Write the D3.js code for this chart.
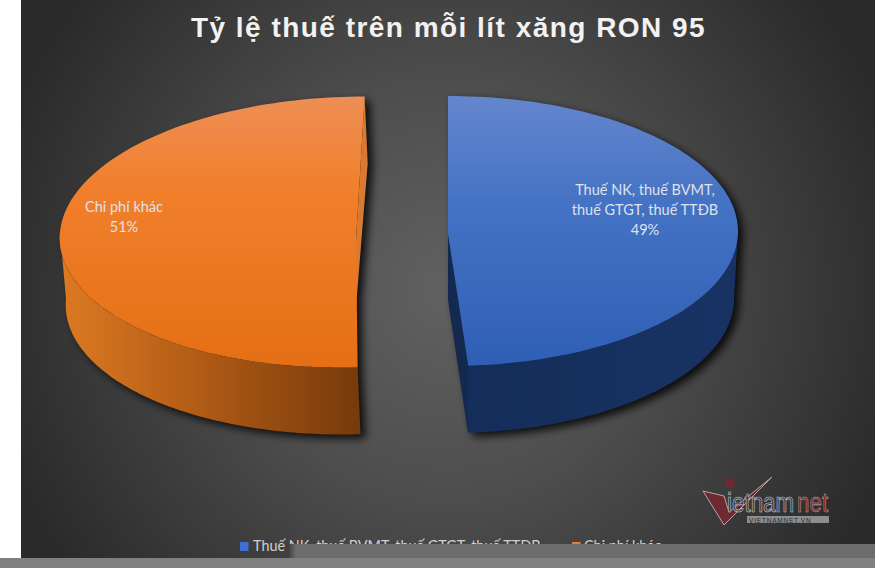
<!DOCTYPE html>
<head>
   <meta charset="utf-8">
   <script src="https://d3js.org/d3.v7.min.js"></script>
   <style>
   html, body{ margin:0; padding:0; background:#fff; overflow:hidden; }
   svg{ display:block; }
   text.title{
      font-family: "Liberation Sans", sans-serif;
      font-size: 28px;
      font-weight: 700;
      letter-spacing: 1.47px;
      fill: #f2f2f2;
   }
   text.label{
      font-family: Lato, sans-serif;
      font-size: 14.5px;
      fill: #dfe2ec;
      text-anchor: middle;
   }
   text.legend{
      font-family: Lato, sans-serif;
      font-size: 14.4px;
      fill: #d0d0d0;
   }
   </style>
   <title>Tỷ lệ thuế trên mỗi lít xăng RON 95</title>
</head>
<body>
<script>
const width = 875;
const height = 568;

// data
const categories = ['Thuế NK, thuế BVMT, thuế GTGT, thuế TTĐB', 'Chi phí khác'];
const values = [49, 51];
const labelLines = [
   ['Thuế NK, thuế BVMT,', 'thuế GTGT, thuế TTĐB'],
   ['Chi phí khác']
];
const titleText = 'Tỷ lệ thuế trên mỗi lít xăng RON 95';

const legendColours = ['#3f6fd0', '#ed7d31'];

// projection of each exploded slice: ellipse, skew, tip of the wedge, wall
const geo = [
   {cx: 449, cy: 231, rx: 289, ry: 135, skew: 1,   tipX: 448, tipY: 233, depth: 67, rxB: 285, dropDx: 0, top: 'topBlue',   wall: 'wallBlue',   inner: '#14294f'},
   {cx: 352, cy: 232, rx: 292, ry: 135.5, skew: -12.7, tipX: 356, tipY: 240, depth: 67, rxB: 289, dropDx: 3, top: 'topOrange', wall: 'wallOrange', inner: '#d97a33'}
];

const svg = d3.select('body').append('svg')
   .attr('width', width)
   .attr('height', height);

const defs = svg.append('defs');

function addGradient(id, attrs, stops, type){
   const g = defs.append(type || 'linearGradient').attr('id', id).attr('gradientUnits', 'userSpaceOnUse');
   Object.keys(attrs).forEach(k => g.attr(k, attrs[k]));
   stops.forEach(s => g.append('stop').attr('offset', s[0]).attr('stop-color', s[1]));
}

addGradient('bg', {cx: 448, cy: 290, r: 470}, [[0, '#616161'], [0.45, '#4d4d4d'], [1, '#2a2a2b']], 'radialGradient');
addGradient('topBlue', {x1: 0, y1: 96, x2: 0, y2: 366}, [[0, '#6486cd'], [0.4, '#4472c4'], [1, '#2f5fb5']]);
addGradient('topOrange', {x1: 0, y1: 97, x2: 0, y2: 368}, [[0, '#ee8e55'], [0.35, '#f17f2b'], [1, '#e46f15']]);
addGradient('wallBlue', {x1: 468, y1: 0, x2: 738, y2: 0}, [[0, '#142d5a'], [1, '#183363']]);
addGradient('wallOrange', {x1: 60, y1: 0, x2: 360, y2: 0}, [[0, '#dd7a22'], [0.45, '#b25c16'], [1, '#773a0a']]);
addGradient('patch', {x1: 288, y1: 0, x2: 296, y2: 0}, [[0, '#3c3c3c'], [1, '#6c6c6c']]);

const shadow = defs.append('filter').attr('id', 'shadow')
   .attr('x', '-10%').attr('y', '-10%').attr('width', '120%').attr('height', '120%');
shadow.append('feGaussianBlur').attr('stdDeviation', 4);

// background
svg.append('rect').attr('x', 21).attr('y', 0).attr('width', width - 21).attr('height', 558).attr('fill', 'url(#bg)');

svg.append('text')
   .attr('class', 'title')
   .attr('x', 191)
   .attr('y', 37)
   .text(titleText);

// pie
const pie = d3.pie().sort(null)(values);
const toDeg = Math.PI / 180;

const project = (g, a, drop) => {
   const d = drop || 0;
   const r = d ? g.rxB : g.rx;
   return [
      g.cx + (d ? g.dropDx : 0) + r * Math.sin(a) - g.skew * Math.cos(a),
      g.cy + d - g.ry * Math.cos(a)
   ];
};
const samples = (a0, a1) => d3.range(0, 121).map(i => a0 + (a1 - a0) * i / 120);
const line = d3.line();

const faces = pie.map((p, i) => {
   const g = geo[i];
   const arc = samples(p.startAngle, p.endAngle);
   // front wall: only the part of the rim that faces the viewer
   const f0 = Math.max(p.startAngle, 90 * toDeg);
   const f1 = Math.min(p.endAngle, 270 * toDeg);
   const front = samples(f0, f1);
   const tip = [g.tipX, g.tipY];
   const tipLow = [g.tipX, g.tipY + g.depth];
   // the cut face that can be seen is at the end of each wedge
   const edgeTop = project(g, p.endAngle);
   const edgeLow = project(g, p.endAngle, g.depth);
   return {
      g: g,
      top: line([tip].concat(arc.map(a => project(g, a)))) + 'Z',
      wall: line(front.map(a => project(g, a)).concat(front.slice().reverse().map(a => project(g, a, g.depth)))) + 'Z',
      inner: line([tip, edgeTop, edgeLow, tipLow]) + 'Z'
   };
});

const shadowG = svg.append('g').attr('filter', 'url(#shadow)').attr('transform', 'translate(5,4)');
faces.forEach(f => {
   shadowG.append('path').attr('d', f.top).attr('fill', '#000').attr('fill-opacity', 0.85);
   shadowG.append('path').attr('d', f.wall).attr('fill', '#000').attr('fill-opacity', 0.85);
   shadowG.append('path').attr('d', f.inner).attr('fill', '#000').attr('fill-opacity', 0.85);
});

const slices = svg.selectAll('g.slice').data(faces).enter().append('g').attr('class', 'slice');
slices.append('path').attr('d', d => d.inner).attr('fill', d => d.g.inner);
slices.append('path').attr('d', d => d.wall).attr('fill', d => `url(#${d.g.wall})`);
slices.append('path').attr('d', d => d.top).attr('fill', d => `url(#${d.g.top})`);

// data labels
const labelPos = [{x: 645, y: 195}, {x: 124, y: 212}];
labelLines.forEach((lines, i) => {
   const rows = lines.concat([values[i] + '%']);
   svg.selectAll(null).data(rows).enter().append('text')
      .attr('class', 'label')
      .attr('x', labelPos[i].x)
      .attr('y', (d, j) => labelPos[i].y + j * 20)
      .text(d => d);
});

// legend, half hidden by the grey block below
const legendPos = [{x: 240, tx: 253}, {x: 572, tx: 584}];
categories.forEach((c, i) => {
   svg.append('rect').attr('x', legendPos[i].x).attr('y', 542).attr('width', 8.5).attr('height', 9)
      .attr('fill', legendColours[i]);
   svg.append('text').attr('class', 'legend').attr('x', legendPos[i].tx).attr('y', 551).text(c);
});

// grey blocks over the bottom of the picture
svg.append('rect').attr('x', 288).attr('y', 544).attr('width', 8).attr('height', 14).attr('fill', 'url(#patch)');
svg.append('rect').attr('x', 296).attr('y', 544).attr('width', width - 296).attr('height', 14).attr('fill', '#6c6c6c');
svg.append('rect').attr('x', 0).attr('y', 558).attr('width', width).attr('height', 10).attr('fill', '#808080');

// watermark
const logo = svg.append('g');
logo.append('path').attr('d', 'M703,491 L724,496 L729,512 L772,477 L724,525 Z').attr('fill', '#6e2a30').attr('stroke', '#b9a5a5').attr('stroke-width', 1);
logo.append('circle').attr('cx', 730).attr('cy', 483).attr('r', 5).attr('fill', '#6e2a30');
logo.append('text').attr('transform', 'translate(727,512) scale(0.8,1)')
   .attr('font-family', 'Liberation Sans').attr('font-size', 28).attr('fill', '#2f3346').attr('stroke', '#c8c8d0').attr('stroke-width', 0.7).text('ietnam');
logo.append('text').attr('transform', 'translate(797,512) scale(0.8,1)')
   .attr('font-family', 'Liberation Sans').attr('font-size', 28).attr('fill', '#7a2a30').attr('stroke', '#c8a8a8').attr('stroke-width', 0.5).text('net');
logo.append('rect').attr('x', 747).attr('y', 516).attr('width', 82).attr('height', 7).attr('fill', '#8d8d8d');
logo.append('text').attr('x', 749).attr('y', 523).attr('font-family', 'Liberation Sans').attr('font-size', 6.5).attr('letter-spacing', 0.8).attr('fill', '#2a2a30').text('VIETNAMNET.VN');
</script>
</body>
